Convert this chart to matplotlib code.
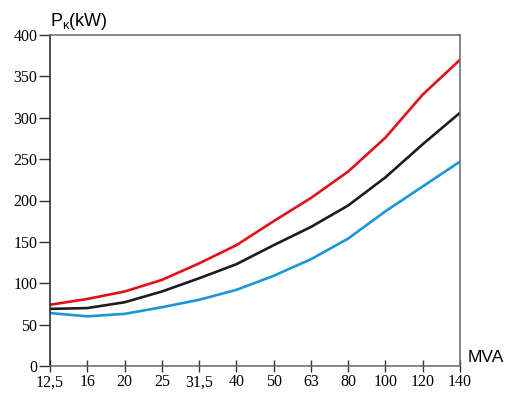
import matplotlib
matplotlib.use("Agg")
import matplotlib.pyplot as plt
import numpy as np

# rated power categories (MVA), equally spaced on the axis
mva_labels = ["12,5", "16", "20", "25", "31,5", "40", "50", "63", "80", "100", "120", "140"]

# load losses Pk (kW)
pk_red = [74, 81, 90, 104, 124, 146, 175, 203, 235, 276, 328, 370]
pk_black = [69, 70, 77, 90, 106, 123, 146, 168, 194, 228, 268, 306]
pk_blue = [64, 60, 63, 71, 80, 92, 109, 129, 154, 187, 217, 247]

y_ticks = [0, 50, 100, 150, 200, 250, 300, 350, 400]

plt.rcParams["mathtext.fontset"] = "custom"
plt.rcParams["mathtext.rm"] = "Liberation Sans"

fig = plt.figure(figsize=(5.09, 3.96), dpi=100)
ax = fig.add_axes([50 / 509, 30 / 396, 410 / 509, 331 / 396])

x = np.arange(len(mva_labels))
ax.plot(x, pk_red, color="#e3101a", lw=1.9, solid_joinstyle="round")
ax.plot(x, pk_black, color="#1c1c1c", lw=1.9, solid_joinstyle="round")
ax.plot(x, pk_blue, color="#1b96d8", lw=1.9, solid_joinstyle="round")

ax.set_xlim(0, len(mva_labels) - 1)
ax.set_ylim(0, 400)
ax.set_xticks(x)
ax.set_xticklabels(mva_labels, family="Liberation Serif", fontsize=11.5)
ax.set_yticks(y_ticks)
ax.set_yticklabels([str(v) for v in y_ticks], family="Liberation Serif", fontsize=11.5)

ax.tick_params(axis="x", direction="inout", length=8, width=1, color="#333333", pad=2)
ax.tick_params(axis="y", direction="out", length=8, width=1, color="#333333", pad=1)

for side in ["top", "right", "bottom"]:
    ax.spines[side].set_color("#666666")
    ax.spines[side].set_linewidth(1.1)
ax.spines["left"].set_color("#222222")
ax.spines["left"].set_linewidth(1.1)

fig.text(50 / 509, 1 - 26 / 396, r"P$_\mathrm{κ}$(kW)", family="Liberation Sans",
         fontsize=13, ha="left", va="baseline")
fig.text(468 / 509, 1 - 362 / 396, "MVA", family="Liberation Sans",
         fontsize=12.5, ha="left", va="baseline")

fig.savefig("out.png", dpi=100)
